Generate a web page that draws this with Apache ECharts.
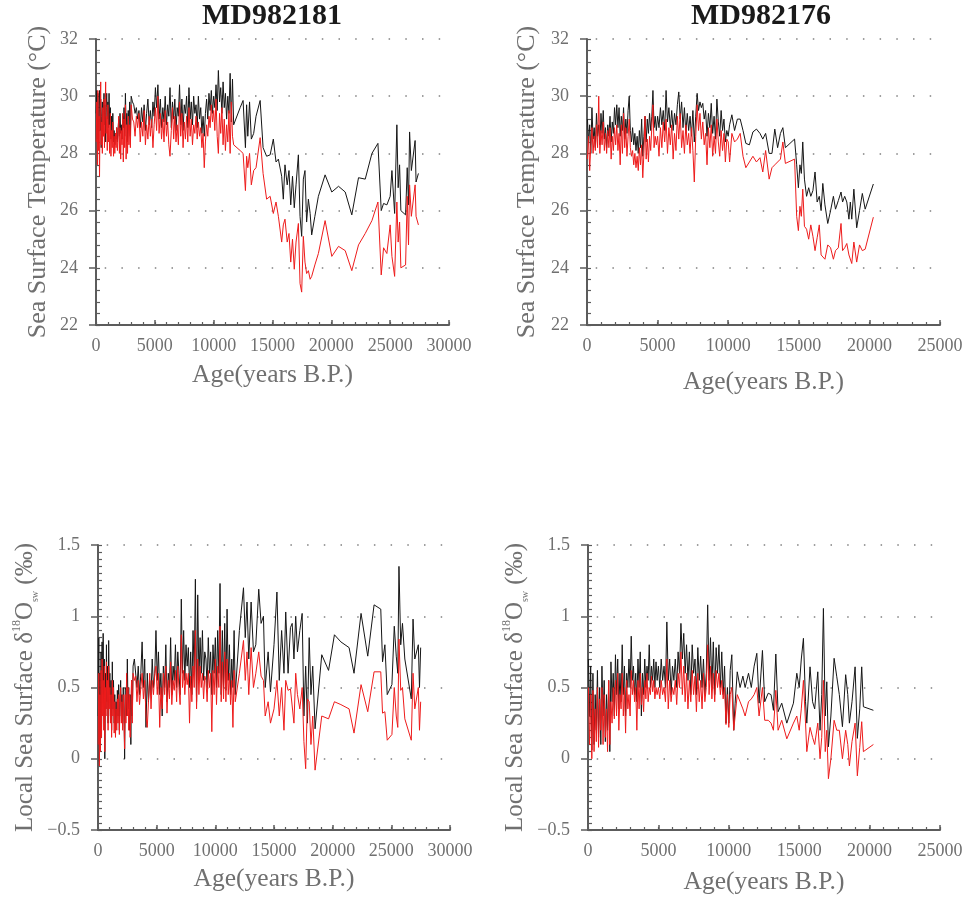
<!DOCTYPE html>
<html>
<head>
<meta charset="utf-8">
<title>MD982181 / MD982176</title>
<script src="https://cdn.jsdelivr.net/npm/echarts@6/dist/echarts.min.js"></script>
<style>
  html, body { margin: 0; padding: 0; background: #ffffff; }
  #chart { width: 966px; height: 897px; }
</style>
</head>
<body>
<div id="chart"></div>
<script>
// ---------- Core MD982181 ----------
// dense Holocene sampling (shared by SST and d18Osw)
const ageDense181 = [
  20, 70, 120, 160, 210, 260, 300, 350, 400, 440,
  490, 540, 580, 630, 680, 720, 770, 820, 860, 910,
  960, 1010, 1060, 1110, 1160, 1220, 1270, 1320, 1380, 1430,
  1490, 1540, 1600, 1650, 1710, 1760, 1820, 1870, 1930, 1990,
  2040, 2100, 2150, 2210, 2270, 2320, 2380, 2440, 2500, 2560,
  2620, 2680, 2740, 2800, 2860, 2920,
  2990, 3100, 3210, 3320, 3430, 3540, 3650, 3760, 3870, 3980,
  4090, 4200, 4300, 4410, 4520, 4620, 4730, 4840, 4940, 5050,
  5150, 5260, 5360, 5470, 5570, 5680, 5780, 5880, 5990, 6090,
  6190, 6290, 6400, 6500, 6600, 6700, 6800, 6900, 7000, 7100,
  7200, 7300, 7400, 7500, 7600, 7700, 7800, 7900, 8000, 8100,
  8200, 8300, 8400, 8500, 8600, 8700, 8800, 8900, 9000, 9100,
  9200, 9300, 9400, 9500, 9600, 9700, 9800, 9900, 10000, 10100,
  10200, 10300, 10400, 10500, 10600, 10700, 10800, 10900, 11000, 11100,
  11200, 11300, 11400, 11500, 11600, 11700
];
const ageSstTail181 = [
  12250, 12500, 12700, 12800, 12900, 13050, 13200, 13400, 13600, 13950,
  14200, 14500, 14800, 15070, 15300, 15500, 15780, 15920, 16060, 16250,
  16400, 16550, 16700, 16850, 17000, 17200, 17340, 17480, 17620, 17760,
  17900, 18050, 18200, 18330, 18600, 18900, 19470, 20040, 20610, 21180,
  21740, 22310, 22880, 23450, 23960, 24240, 24440, 24720, 25000, 25150,
  25380, 25570, 25680, 25800, 25910, 26310, 26450, 26560, 26650, 26800,
  27120, 27200, 27400
];
const ageIsoTail181 = [
  12050, 12400, 12550, 12700, 12850, 13050, 13250, 13450, 13700, 13900,
  14100, 14250, 14500, 14700, 15000, 15250, 15450, 15650, 15850, 16000,
  16200, 16400, 16550, 16700, 16850, 17000, 17200, 17400, 17550, 17700,
  17850, 18000, 18150, 18300, 18500, 19070, 19650, 20150, 20700, 21400,
  21820, 22420, 22990, 23530, 24100, 24250, 24450, 24650, 25050, 25250,
  25420, 25550, 25650, 25800, 25950, 26150, 26700, 26850, 27000, 27300,
  27400, 27500
];

const sstBlack181 = [
  29.4, 30.2, 28.5, 30.1, 28.3, 29.6, 30.2, 28.8, 29.9, 28.2,
  29.3, 29.8, 28.6, 29.5, 30.1, 29.0, 29.7, 28.4, 29.6, 30.1,
  29.2, 29.8, 28.9, 30.1, 29.0, 29.6, 28.5, 29.3, 28.7, 29.4,
  28.4, 28.8, 28.3, 28.7, 28.5, 28.9, 28.4, 28.8, 29.2, 28.6,
  29.4, 28.7, 29.0, 28.5, 29.3, 28.9, 29.6, 28.6, 30.1, 29.0,
  29.4, 28.4, 29.5, 28.9, 29.8, 28.6,
  30.0, 29.8, 29.7, 29.4, 29.6, 29.2, 29.5, 28.9, 29.6, 29.1,
  29.7, 28.8, 29.4, 29.9, 29.0, 29.5, 28.9, 29.8, 29.3, 30.3,
  29.6, 30.4, 29.2, 29.9, 28.9, 29.6, 29.1, 30.0, 29.0, 29.7,
  29.3, 30.3, 28.9, 29.8, 29.2, 29.9, 28.8, 29.6, 29.3, 30.4,
  29.0, 29.9, 28.8, 29.7, 29.4, 30.0, 28.9, 30.3, 29.2, 29.8,
  29.0, 30.0, 29.4, 29.7, 28.9, 30.0, 29.2, 29.6, 28.7, 29.3,
  28.6, 29.4, 29.9, 29.2, 30.1, 29.5, 30.2, 29.4, 30.0, 29.6,
  30.4, 29.5, 30.9, 29.8, 30.3, 29.4, 30.5, 29.6, 30.1, 29.2,
  30.0, 29.4, 30.8, 29.1, 30.6, 29.0,
  // deglacial and glacial part
  29.6, 29.85, 28.2, 29.7, 28.6, 29.8, 28.5, 28.7, 29.3, 29.85,
  28.2, 27.9, 27.95, 28.5, 27.7, 27.8, 27.2, 26.4, 27.6, 26.9,
  27.4, 26.2, 27.2, 26.1, 26.9, 27.95, 25.8, 25.1, 27.1, 27.4,
  25.6, 26.4, 25.9, 25.15, 25.8, 26.5, 27.25, 26.65, 26.85, 26.65,
  25.85, 27.15, 27.1, 28.0, 28.35, 26.0, 26.25, 26.2, 26.5, 27.4,
  25.9, 29.0, 26.8, 27.6, 26.0, 25.85, 27.5, 26.2, 28.75, 27.4,
  28.45, 27.0, 27.3
];
const sstRed181 = [
  28.4, 29.8, 27.6, 30.2, 28.1, 29.3, 27.2, 29.5, 30.5, 28.3,
  29.1, 28.0, 29.6, 28.6, 29.9, 28.2, 29.4, 30.5, 28.7, 29.3,
  28.1, 29.7, 28.4, 29.0, 28.0, 29.4, 27.9, 28.8, 28.2, 29.1,
  27.9, 28.6, 28.0, 28.7, 28.2, 28.9, 28.1, 28.6, 29.3, 28.0,
  28.9, 27.8, 28.8, 28.3, 29.4, 27.7, 29.2, 28.2, 29.7, 27.8,
  29.0, 28.0, 29.3, 28.3, 29.0, 28.2,
  29.7, 29.2, 29.1, 28.6, 29.3, 28.9, 29.4, 28.4, 29.1, 28.6,
  29.5, 28.3, 29.0, 28.5, 29.3, 28.6, 29.2, 28.2, 29.0, 29.6,
  28.8, 30.0, 28.7, 29.4, 28.5, 29.2, 28.4, 29.5, 28.6, 29.1,
  28.3, 27.9, 28.8, 29.6, 28.5, 29.3, 28.4, 29.0, 28.3, 29.8,
  28.6, 29.4, 28.2, 29.1, 28.5, 29.3, 28.4, 29.6, 28.6, 29.2,
  28.3, 29.0, 28.7, 29.3, 28.5, 29.1, 28.6, 28.9, 28.2, 28.7,
  27.5, 28.4, 29.0, 28.6, 29.3, 28.9, 29.7, 29.1, 29.5, 28.8,
  29.9, 28.6, 28.0, 29.4, 28.7, 29.6, 28.3, 29.2, 28.1, 29.0,
  28.4, 29.5, 28.0, 29.8, 28.6, 28.3,
  28.1, 28.0, 26.7, 27.9, 27.5, 28.0, 26.9, 27.4, 27.5, 28.55,
  27.3, 26.4, 26.5, 25.9, 26.3, 25.8, 24.9, 25.5, 25.7, 24.9,
  25.2, 24.2, 25.0, 23.95, 24.9, 25.55, 23.45, 23.15, 25.1, 24.2,
  23.8, 23.9, 23.6, 23.7, 24.1, 24.5, 25.65, 24.4, 24.75, 24.6,
  23.9, 24.8, 25.2, 25.65, 26.3, 23.75, 24.7, 24.5, 25.5, 24.4,
  23.7, 26.3, 24.9, 25.6, 24.0, 24.1, 26.5, 24.8, 26.9, 25.8,
  26.9, 25.8, 25.5
];
const isoBlack181 = [
  0.3, 0.85, -0.02, 0.6, 0.1, 0.75, 0.2, 0.82, 0.45, 0.88,
  0.3, 0.7, 0.0, 0.6, 0.35, 0.8, 0.4, 0.65, 0.25, 0.83,
  0.45, 0.6, 0.3, 0.55, 0.2, 0.68, 0.35, 0.55, 0.25, 0.45,
  0.2, 0.4, 0.25, 0.48, 0.3, 0.52, 0.2, 0.4, 0.55, 0.3,
  0.45, 0.25, 0.5, 0.35, 0.0, 0.5, 0.48, 0.3, 0.7, 0.35,
  0.5, 0.2, 0.45, 0.1, 0.55, 0.3,
  0.65, 0.7, 0.69, 0.5, 0.65, 0.45, 0.6, 0.82, 0.5, 0.7,
  0.22, 0.6, 0.4, 0.55, 0.45, 0.7, 0.5, 0.6, 0.9, 0.55,
  0.75, 0.45, 0.6, 0.3, 0.65, 0.5, 0.8, 0.4, 0.6, 0.5,
  0.85, 0.45, 0.65, 0.55, 0.8, 0.5, 0.75, 0.6, 0.45, 1.12,
  0.6, 0.9, 0.55, 0.8, 0.65, 0.78, 0.5, 0.75, 0.45, 0.9,
  0.6, 1.26, 0.4, 1.15, 0.55, 0.85, 0.6, 0.9, 0.55, 0.75,
  0.7, 0.5, 0.85, 0.6, 0.75, 0.45, 0.8, 0.6, 0.85, 0.5,
  0.9, 0.6, 1.23, 0.45, 0.9, 0.5, 0.95, 0.48, 1.05, 0.55,
  0.8, 0.45, 0.7, 0.5, 0.9, 0.45,
  0.9, 1.2, 0.85, 1.1, 0.7, 1.1, 0.75, 0.8, 1.19, 0.95,
  1.0, 0.5, 0.75, 0.47, 0.8, 1.17, 0.55, 0.9, 0.6, 1.03,
  0.6, 0.92, 0.95, 0.7, 1.0, 0.75, 0.9, 1.02, 0.3, 0.65,
  0.25, 0.85, 0.45, 0.65, 0.21, 0.73, 0.62, 0.87, 0.82, 0.78,
  0.6, 1.02, 0.72, 1.08, 1.05, 0.68, 0.8, 0.45, 0.52, 0.93,
  0.72, 0.6, 1.35, 0.8, 0.95, 0.7, 0.42, 0.98, 0.7, 0.8,
  0.5, 0.78
];
const isoRed181 = [
  0.1, 0.6, -0.05, 0.45, 0.05, 0.62, 0.15, 0.7, 0.3, 0.55,
  0.2, 0.65, 0.05, 0.5, 0.3, 0.68, 0.35, 0.55, 0.2, 0.65,
  0.35, 0.5, 0.25, 0.45, 0.15, 0.55, 0.3, 0.5, 0.18, 0.4,
  0.15, 0.35, 0.2, 0.42, 0.25, 0.45, 0.17, 0.35, 0.5, 0.25,
  0.4, 0.2, 0.45, 0.3, 0.07, 0.45, 0.25, 0.6, 0.3, 0.5,
  0.2, 0.45, 0.15, 0.35, 0.55, 0.25,
  0.6, 0.55, 0.58, 0.4, 0.55, 0.38, 0.5, 0.6, 0.42, 0.55,
  0.3, 0.22, 0.4, 0.6, 0.35, 0.55, 0.45, 0.6, 0.65, 0.45,
  0.6, 0.22, 0.5, 0.35, 0.6, 0.45, 0.65, 0.32, 0.55, 0.42,
  0.68, 0.38, 0.55, 0.48, 0.62, 0.4, 0.65, 0.5, 0.38, 0.87,
  0.5, 0.62, 0.45, 0.6, 0.52, 0.6, 0.25, 0.58, 0.4, 0.65,
  0.5, 0.9, 0.35, 0.7, 0.45, 0.65, 0.5, 0.6, 0.42, 0.58,
  0.55, 0.4, 0.62, 0.5, 0.6, 0.19, 0.62, 0.45, 0.7, 0.38,
  0.65, 0.5, 0.93, 0.4, 0.68, 0.42, 0.75, 0.4, 0.7, 0.45,
  0.6, 0.38, 0.55, 0.22, 0.62, 0.4,
  0.6, 0.83, 0.55, 0.75, 0.45, 0.78, 0.5, 0.6, 0.75, 0.58,
  0.55, 0.3, 0.4, 0.25, 0.35, 0.55, 0.3, 0.5, 0.2, 0.55,
  0.48, 0.49, 0.5, 0.25, 0.6, 0.45, 0.35, 0.5, 0.12, -0.07,
  0.42, 0.4, 0.1, 0.3, -0.08, 0.3, 0.28, 0.4, 0.38, 0.35,
  0.18, 0.52, 0.33, 0.61, 0.61, 0.32, 0.33, 0.13, 0.17, 0.5,
  0.3, 0.22, 0.84, 0.48, 0.5, 0.28, 0.13, 0.6, 0.35, 0.5,
  0.2, 0.4
];

// ---------- Core MD982176 ----------
const ageDense176 = [
  30, 110, 190, 270, 350, 430, 510, 590, 670, 750,
  830, 910, 990, 1070, 1150, 1230, 1310, 1390, 1470, 1550,
  1630, 1710, 1790, 1870, 1950, 2030, 2110, 2190, 2270, 2350,
  2430, 2510, 2590, 2670, 2750, 2830, 2910, 2990, 3070, 3150,
  3230, 3310, 3390, 3470, 3550, 3630, 3710, 3790, 3870, 3950,
  4030, 4110, 4190, 4270, 4350, 4430, 4510, 4590, 4670, 4750,
  4830, 4910,
  5000, 5100, 5200, 5300, 5400, 5500, 5600, 5700, 5800, 5900,
  6000, 6100, 6200, 6300, 6400, 6500, 6600, 6700, 6800, 6900,
  7000, 7100, 7200, 7300, 7400, 7500, 7600, 7700, 7800, 7900,
  8000, 8100, 8200, 8300, 8400, 8500, 8600, 8700, 8800, 8900,
  9000, 9100, 9200, 9300, 9400, 9500, 9600, 9700, 9800, 9900
];
const ageSstTail176 = [
  10000, 10100, 10260, 10450, 10650, 10850, 11050, 11250, 11500, 11750,
  12000, 12250, 12450, 12650, 12900, 13100, 13300, 13500, 13700, 13870,
  14050, 14700, 14850, 14970, 15080, 15180, 15280, 15400, 15550, 15700,
  15850, 16000, 16150, 16300, 16450, 16580, 16700, 16850, 17050, 17250,
  17450, 17600, 17800, 17990, 18100, 18250, 18400, 18550, 18650, 18750,
  18900, 19100, 19300, 19500, 19700, 20280
];
const ageIsoTail176 = [
  10000, 10100, 10215, 10350, 10450, 10600, 10800, 11000, 11160, 11400,
  11600, 11800, 11990, 12150, 12390, 12550, 12800, 13000, 13170, 13340,
  13500, 13760, 14120, 14590, 14830, 15000, 15150, 15300, 15450, 15540,
  15770, 15950, 16100, 16320, 16480, 16600, 16720, 16850, 16960, 17075,
  17250, 17480, 17670, 17850, 18070, 18300, 18450, 18565, 18750, 18970,
  19130, 19300, 19440, 19560, 20270
];

const sstBlack176 = [
  29.2, 28.4, 29.0, 28.0, 29.6, 28.5, 28.9, 28.2, 29.4, 28.6,
  29.0, 28.3, 29.4, 28.7, 29.5, 28.5, 28.9, 28.2, 29.0, 28.6,
  29.3, 28.4, 29.1, 28.7, 29.6, 29.0, 29.7, 28.9, 29.6, 28.6,
  29.3, 28.8, 29.6, 28.5, 29.2, 28.7, 29.5, 30.0, 28.8, 28.4,
  28.9, 28.3, 28.7, 28.1, 28.6, 28.0, 28.8, 28.2, 29.2, 27.9,
  28.6, 29.3, 28.4, 29.2, 28.7, 29.4, 28.8, 29.3, 30.2, 28.9,
  29.3, 28.8,
  29.3, 28.9, 29.6, 29.0, 29.5, 28.8, 30.2, 29.1, 29.6, 28.9,
  29.5, 28.8, 29.4, 29.0, 29.7, 30.15, 29.2, 29.8, 28.9, 29.6,
  28.7, 29.4, 28.8, 29.3, 28.6, 29.5, 28.4, 29.3, 30.1, 29.5,
  29.8, 29.6, 29.75, 29.2, 29.5, 28.6, 29.4, 28.9, 29.75, 28.7,
  29.3, 28.5, 29.9, 29.1, 28.6, 29.5, 28.8, 29.2, 28.4, 28.8,
  28.6, 29.0, 29.35, 28.8, 29.2, 29.2, 28.8, 28.35, 28.3, 28.75,
  28.85, 28.7, 28.5, 28.7, 28.0, 28.0, 28.85, 28.2, 28.7, 28.9,
  28.2, 28.5, 27.6, 26.8, 27.6, 27.3, 28.4, 27.1, 26.5, 26.8,
  26.5, 26.7, 27.35, 26.3, 26.5, 26.0, 26.95, 26.2, 25.55, 26.0,
  26.5, 26.05, 26.35, 26.65, 26.3, 26.5, 26.3, 25.7, 26.3, 25.7,
  26.75, 25.4, 26.0, 26.6, 26.05, 26.93
];
const sstRed176 = [
  27.8, 28.6, 27.4, 28.3, 28.9, 28.0, 28.6, 28.1, 29.0, 28.2,
  30.0, 28.0, 28.8, 28.3, 29.1, 28.1, 28.7, 28.0, 28.8, 28.2,
  28.9, 27.8, 28.6, 28.1, 28.9, 28.3, 29.0, 28.1, 28.7, 27.6,
  29.0, 28.0, 29.4, 28.2, 28.9, 27.9, 28.6, 29.2, 28.2, 27.9,
  28.1, 27.6, 28.0, 27.5, 27.9, 27.4, 28.2, 27.6, 28.3, 27.15,
  28.0, 29.3, 27.8, 28.5, 27.7, 28.6, 28.1, 28.9, 29.7, 28.2,
  28.6, 28.3,
  28.6, 27.9, 28.9, 28.2, 29.1, 28.4, 29.2, 28.0, 28.9, 28.3,
  29.0, 27.8, 28.7, 28.1, 29.3, 28.5, 29.4, 28.2, 28.8, 28.0,
  29.0, 28.3, 28.7, 28.0, 28.9, 28.1, 27.0, 28.6, 29.7, 28.8,
  29.4, 28.5, 29.1, 28.3, 28.7, 27.6, 28.9, 28.2, 29.0, 27.9,
  28.6, 28.0, 29.2, 28.4, 27.9, 28.8, 28.1, 28.7, 27.7, 28.5,
  28.4, 27.7, 28.7, 28.4, 28.5, 28.7, 27.9, 27.5, 27.7, 27.9,
  27.7, 27.85, 27.35, 28.1, 27.1, 27.5, 27.6, 27.7, 27.8, 28.4,
  27.65, 27.8, 25.8, 25.3, 26.15, 25.8, 26.75, 25.45, 25.35, 25.0,
  25.5, 25.1, 24.6, 25.05, 25.5, 24.45, 24.5, 24.3, 24.8, 24.7,
  24.3, 24.6, 24.7, 25.55, 24.6, 24.7, 24.85, 24.45, 24.5, 24.15,
  24.9, 24.2, 24.8, 24.6, 24.65, 25.77
];
const isoBlack176 = [
  0.7, 0.3, 0.65, 0.06, 0.6, 0.1, 0.45, 0.2, 0.62, 0.15,
  0.5, 0.1, 0.65, 0.3, 0.55, 0.12, 0.45, 0.2, 0.55, 0.05,
  0.68, 0.4, 0.6, 0.3, 0.73, 0.45, 0.7, 0.35, 0.6, 0.4,
  0.8, 0.45, 0.65, 0.3, 0.6, 0.5, 0.7, 0.5, 0.86, 0.55,
  0.65, 0.45, 0.6, 0.4, 0.7, 0.5, 0.75, 0.3, 0.6, 0.45,
  0.7, 0.5, 0.65, 0.55, 0.8, 0.5, 0.65, 0.55, 0.7, 0.5,
  0.68, 0.55,
  0.65, 0.5, 0.7, 0.55, 0.65, 0.5, 0.96, 0.55, 0.7, 0.45,
  0.65, 0.55, 0.7, 0.5, 0.75, 0.6, 0.95, 0.7, 0.88, 0.6,
  0.8, 0.55, 0.75, 0.45, 0.8, 0.6, 0.7, 0.45, 0.78, 0.55,
  0.72, 0.5, 0.7, 0.45, 0.6, 1.08, 0.55, 0.85, 0.5, 0.82,
  0.45, 0.78, 0.6, 0.8, 0.5, 0.75, 0.45, 0.65, 0.25, 0.5,
  0.25, 0.62, 0.73, 0.2, 0.39, 0.61, 0.5, 0.58, 0.5, 0.6,
  0.5, 0.65, 0.74, 0.39, 0.76, 0.4, 0.46, 0.45, 0.34, 0.735,
  0.33, 0.39, 0.25, 0.39, 0.6, 0.5, 0.7, 0.845, 0.4, 0.25,
  0.645, 0.4, 0.35, 0.61, 0.2, 0.45, 1.055, 0.3, 0.54, 0.084,
  0.3, 0.705, 0.575, 0.45, 0.225, 0.59, 0.45, 0.25, 0.4, 0.645,
  0.143, 0.35, 0.645, 0.365, 0.34
];
const isoRed176 = [
  0.5, 0.1, 0.45, 0.0, 0.48, 0.05, 0.35, 0.12, 0.5, 0.08,
  0.42, 0.2, 0.5, 0.1, 0.45, 0.15, 0.35, 0.05, 0.55, 0.1,
  0.4, 0.25, 0.5, 0.28, 0.55, 0.3, 0.6, 0.2, 0.45, 0.35,
  0.6, 0.3, 0.5, 0.18, 0.55, 0.35, 0.45, 0.3, 0.62, 0.45,
  0.55, 0.4, 0.5, 0.2, 0.55, 0.35, 0.6, 0.38, 0.5, 0.33,
  0.55, 0.42, 0.6, 0.4, 0.5, 0.45, 0.58, 0.47, 0.55, 0.42,
  0.5, 0.45,
  0.5, 0.42, 0.55, 0.45, 0.5, 0.4, 0.7, 0.35, 0.55, 0.4,
  0.5, 0.45, 0.55, 0.38, 0.6, 0.5, 0.75, 0.45, 0.65, 0.4,
  0.6, 0.35, 0.55, 0.4, 0.62, 0.45, 0.58, 0.33, 0.6, 0.4,
  0.55, 0.35, 0.6, 0.4, 0.5, 0.8, 0.45, 0.65, 0.42, 0.6,
  0.4, 0.62, 0.5, 0.6, 0.45, 0.55, 0.42, 0.5, 0.24, 0.45,
  0.22, 0.45, 0.5, 0.2, 0.3, 0.45, 0.4, 0.35, 0.3, 0.4,
  0.42, 0.45, 0.5, 0.3, 0.5, 0.27, 0.27, 0.25, 0.2, 0.48,
  0.2, 0.27, 0.14, 0.25, 0.3, 0.2, 0.35, 0.55, 0.25, 0.05,
  0.22, 0.15, 0.1, 0.25, 0.0, 0.15, 0.55, 0.05, 0.2, -0.14,
  0.0, 0.27, 0.2, 0.2, 0.0, 0.2, 0.1, -0.05, 0.12, 0.25,
  -0.12, 0.08, 0.26, 0.05, 0.1
];

// ---------- Axis settings ----------
const coreNames = ['MD982181', 'MD982176'];
const xMax = [30000, 25000];
const sstRange = [22, 32];
const isoRange = [-0.5, 1.5];

const ageSst181 = ageDense181.concat(ageSstTail181);
const ageIso181 = ageDense181.concat(ageIsoTail181);
const ageSst176 = ageDense176.concat(ageSstTail176);
const ageIso176 = ageDense176.concat(ageIsoTail176);

function pairs(ages, vals) {
  if (ages.length !== vals.length) console.warn('length mismatch', ages.length, vals.length);
  const n = Math.min(ages.length, vals.length);
  const out = [];
  for (let i = 0; i < n; i++) out.push([ages[i], vals[i]]);
  return out;
}

const FONT = '"Liberation Serif", "Times New Roman", serif';
const AXIS = '#5c5c5c';
const TEXT = '#707070';
const BLACK = '#161616';
const RED = '#ee1b1b';

const grids = [
  { left: 96,  top: 39,  width: 353, height: 286 },
  { left: 587, top: 39,  width: 353, height: 286 },
  { left: 98,  top: 545, width: 352, height: 285 },
  { left: 588, top: 545, width: 352, height: 285 }
].map(g => Object.assign({ outerBoundsMode: 'none', containLabel: false }, g));

function makeX(gi, max, gap) {
  return {
    type: 'value', gridIndex: gi, position: 'bottom', min: 0, max: max, interval: 5000,
    name: 'Age(years B.P.)', nameLocation: 'middle', nameGap: gap,
    nameTextStyle: { fontFamily: FONT, fontSize: 25.5, color: TEXT },
    axisLine: { onZero: false, lineStyle: { color: AXIS, width: 2 } },
    axisTick: { inside: true, length: 5, lineStyle: { color: AXIS, width: 1.5 } },
    axisLabel: { fontFamily: FONT, fontSize: 18, color: TEXT, margin: 12, formatter: v => String(v) },
    splitLine: { show: false }
  };
}

// short inward ticks every 1000 years
function makeXFine(gi, max) {
  return {
    type: 'value', gridIndex: gi, position: 'bottom', min: 0, max: max, interval: 1000,
    axisLine: { show: false, onZero: false },
    axisTick: { show: true, inside: true, length: 3, lineStyle: { color: AXIS, width: 1.2 } },
    axisLabel: { show: false },
    splitLine: { show: false }
  };
}

const sstName = 'Sea Surface Temperature (°C)';
const isoName = '{a|Local Sea Surface δ}{b|18}{a|O}{c|sw}{a| (‰)}';
const isoRich = {
  a: { fontFamily: FONT, fontSize: 25, color: TEXT, lineHeight: 29 },
  b: { fontFamily: FONT, fontSize: 12, color: TEXT, lineHeight: 12, verticalAlign: 'top' },
  c: { fontFamily: FONT, fontSize: 10, color: TEXT, lineHeight: 10, verticalAlign: 'bottom' }
};

// value axis: line, labels, dotted grid and outward major ticks
function makeY(gi, range, interval, name, gap, rich) {
  return {
    type: 'value', gridIndex: gi, position: 'left', min: range[0], max: range[1], interval: interval,
    name: name, nameLocation: 'middle', nameGap: gap,
    nameTextStyle: Object.assign({ fontFamily: FONT, fontSize: 26, color: TEXT }, rich ? { rich: rich } : {}),
    axisLine: { onZero: false, lineStyle: { color: AXIS, width: 2 } },
    axisTick: { inside: false, length: 7, lineStyle: { color: AXIS, width: 1.5 } },
    axisLabel: {
      fontFamily: FONT, fontSize: 18, color: TEXT, margin: 18,
      formatter: v => String(v).replace('-', '\u2212')
    },
    splitLine: { show: true, lineStyle: { color: '#808080', width: 1.5, type: [1.5, 15.2], dashOffset: 8 } }
  };
}

// short inward ticks between the labelled values
function makeYFine(gi, range, step) {
  return {
    type: 'value', gridIndex: gi, position: 'left', min: range[0], max: range[1], interval: step,
    axisLine: { show: false, onZero: false },
    axisTick: { show: true, inside: true, length: 4, lineStyle: { color: AXIS, width: 1.2 } },
    axisLabel: { show: false },
    splitLine: { show: false }
  };
}

function line(xi, yi, data, color, z) {
  return {
    type: 'line', xAxisIndex: xi, yAxisIndex: yi, data: data,
    symbol: 'none', showSymbol: false, clip: true, z: z,
    lineStyle: { color: color, width: 1 }, emphasis: { disabled: true }
  };
}

const chart = echarts.init(document.getElementById('chart'), null, { renderer: 'canvas' });
chart.setOption({
  animation: false,
  backgroundColor: '#ffffff',
  grid: grids,
  xAxis: [
    makeX(0, xMax[0], 37), makeX(1, xMax[1], 44), makeX(2, xMax[0], 36), makeX(3, xMax[1], 39),
    makeXFine(0, xMax[0]), makeXFine(1, xMax[1]), makeXFine(2, xMax[0]), makeXFine(3, xMax[1])
  ],
  yAxis: [
    makeY(0, sstRange, 2, sstName, 45),
    makeY(1, sstRange, 2, sstName, 47),
    makeY(2, isoRange, 0.5, isoName, 58, isoRich),
    makeY(3, isoRange, 0.5, isoName, 58, isoRich),
    makeYFine(0, sstRange, 0.4),
    makeYFine(1, sstRange, 0.4),
    makeYFine(2, isoRange, 0.05),
    makeYFine(3, isoRange, 0.05)
  ],
  graphic: [
    { type: 'text', x: 272, y: 16, style: { text: coreNames[0], font: 'bold 30px ' + FONT, fill: '#1a1a1a', align: 'center', verticalAlign: 'middle' } },
    { type: 'text', x: 761, y: 16, style: { text: coreNames[1], font: 'bold 30px ' + FONT, fill: '#1a1a1a', align: 'center', verticalAlign: 'middle' } }
  ],
  series: [
    line(0, 0, pairs(ageSst181, sstBlack181), BLACK, 2),
    line(0, 0, pairs(ageSst181, sstRed181), RED, 3),
    line(1, 1, pairs(ageSst176, sstBlack176), BLACK, 2),
    line(1, 1, pairs(ageSst176, sstRed176), RED, 3),
    line(2, 2, pairs(ageIso181, isoBlack181), BLACK, 2),
    line(2, 2, pairs(ageIso181, isoRed181), RED, 3),
    line(3, 3, pairs(ageIso176, isoBlack176), BLACK, 2),
    line(3, 3, pairs(ageIso176, isoRed176), RED, 3)
  ]
});
</script>
</body>
</html>
